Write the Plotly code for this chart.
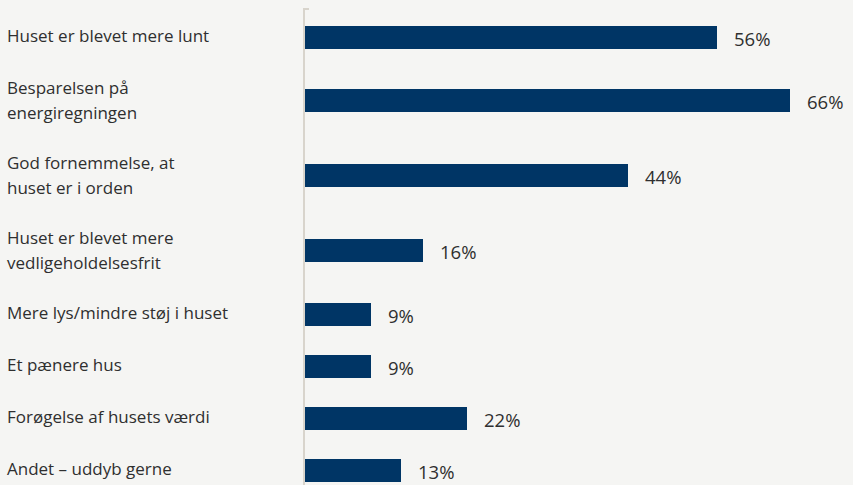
import plotly.graph_objects as go

categories = [
    "Huset er blevet mere lunt",
    "Besparelsen på<br>energiregningen",
    "God fornemmelse, at<br>huset er i orden",
    "Huset er blevet mere<br>vedligeholdelsesfrit",
    "Mere lys/mindre støj i huset",
    "Et pænere hus",
    "Forøgelse af husets værdi",
    "Andet – uddyb gerne",
]
values = [56, 66, 44, 16, 9, 9, 22, 13]
value_labels = ["56%", "66%", "44%", "16%", "9%", "9%", "22%", "13%"]

BG = "#f5f5f3"
BAR = "#003565"
TXT = "#2f2f2f"
AXIS = "#d8d4cc"
FONT = "Open Sans"

W, H = 853, 485
ML, MR, MT, MB = 305, 0, 9, 0
plot_w = W - ML - MR
LINE_H = 25

# row heights depend on number of label lines
SINGLE, DOUBLE = 52, 75
heights = [DOUBLE if "<br>" in c else SINGLE for c in categories]
pos = [0.0]
for i in range(1, len(categories)):
    pos.append(pos[-1] + (heights[i - 1] + heights[i]) / 2)

top = -28
bottom = top + (H - MT - MB)

fig = go.Figure()
fig.add_trace(go.Bar(
    x=values, y=pos, orientation="h",
    marker=dict(color=BAR, line=dict(width=0)),
    width=23, hoverinfo="skip",
))

for p, c in zip(pos, categories):
    lines = c.split("<br>")
    n = len(lines)
    for k, ln in enumerate(lines):
        off = ((n - 1) / 2 - k) * LINE_H
        fig.add_annotation(
            xref="paper", yref="y", x=-(ML - 5) / plot_w, y=p,
            text=ln, showarrow=False, xanchor="left", yanchor="middle",
            align="left", yshift=off + (2 if n == 1 else 1),
            font=dict(family=FONT, size=17, color=TXT),
        )
for p, v, t in zip(pos, values, value_labels):
    fig.add_annotation(
        xref="x", yref="y", x=v, y=p, text=t, showarrow=False,
        xanchor="left", yanchor="middle", xshift=15, yshift=-1,
        font=dict(family=FONT, size=18.5, color=TXT),
    )

# small tick at top of the axis line
fig.add_shape(type="line", xref="paper", yref="paper",
              x0=-2 / plot_w, x1=4 / plot_w, y0=1, y1=1,
              line=dict(color=AXIS, width=2))

fig.update_layout(
    width=W, height=H,
    margin=dict(l=ML, r=MR, t=MT, b=MB, pad=0),
    paper_bgcolor=BG, plot_bgcolor=BG,
    showlegend=False,
    bargap=0,
)
fig.update_xaxes(range=[0, plot_w / 7.35], visible=False, fixedrange=True)
fig.update_yaxes(range=[bottom, top], showticklabels=False, showgrid=False,
                 zeroline=False, showline=True, linecolor=AXIS, linewidth=2,
                 ticks="", fixedrange=True)

fig.write_html("out.html", config={"displayModeBar": False},
               post_script="document.body.style.margin='0';")
